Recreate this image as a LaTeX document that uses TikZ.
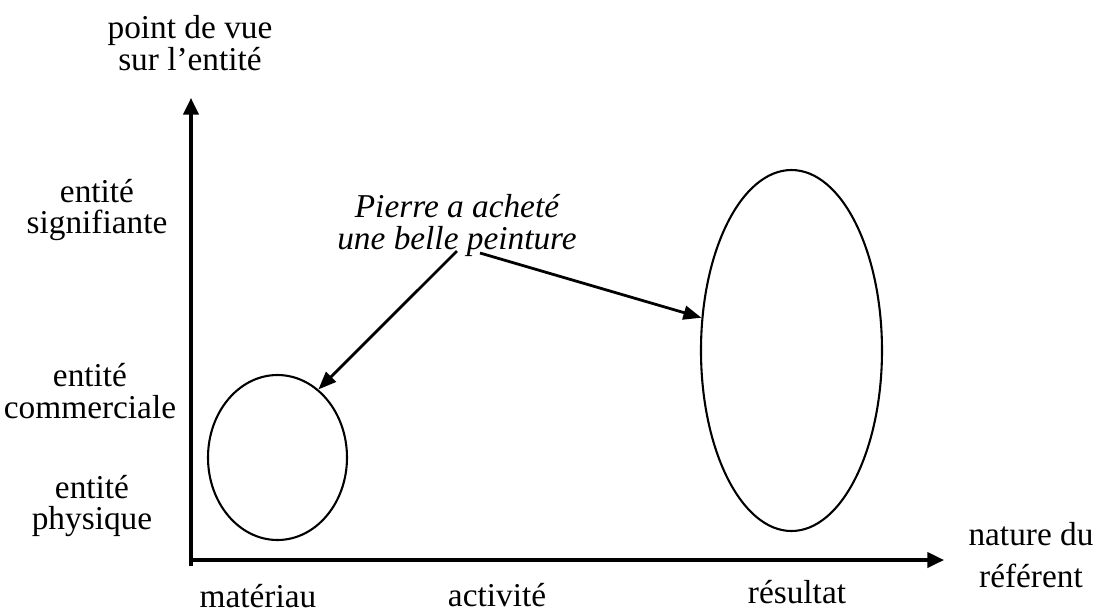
\documentclass[tikz,border=0pt]{standalone}
\usepackage{fontspec}
\setmainfont{Liberation Serif}
\usetikzlibrary{positioning, arrows.meta, shapes.geometric}
\newcommand{\pu}{0.36pt}

\begin{document}
\begin{tikzpicture}[
  x=0.36pt, y=-0.36pt,
  axe/.style={-{Triangle[length=6pt, width=5.5pt]}, line width=1.1pt},
  fleche/.style={-{Triangle[length=6.5pt, width=5pt]}, line width=1pt},
  zone/.style={ellipse, draw, line width=0.75pt, inner sep=0pt},
  lbl/.style={align=center, inner sep=0pt,
    font=\fontsize{12}{11.5}\selectfont}
]
\useasboundingbox (0,0) rectangle (1097,613);

%% axes: origin at (191,560) in px, y pointing down
\coordinate (orig) at (191,566);
\coordinate (ytip) at (191,98);
\coordinate (xstart) at (189,560);
\coordinate (xtip) at (944,560);
\draw[axe] (orig) -- (ytip);
\draw[axe] (xstart) -- (xtip);

%% ─── AXIS TITLES ────────────────────────────────────────────────
\node[lbl] (ytitle) at (190,43) {point de vue\\sur l’entité};
\node[lbl, font=\fontsize{12}{15}\selectfont] (xtitle) at (1031,555)
  {nature du\\référent};

%% ─── Y LEVELS ───────────────────────────────────────────────────
\node[lbl] (signif) at (97,210) {entité\\signifiante};
\node[lbl] (commer) at (90,391) {entité\\commerciale};
\node[lbl] (phys) at (92,506) {entité\\physique};

%% ─── X LEVELS ───────────────────────────────────────────────────
\node[lbl] (mat) at (258,596) {matériau};
\node[lbl] (act) at (497,595) {activité};
\node[lbl] (res) at (797,592) {résultat};

%% ─── ZONES ──────────────────────────────────────────────────────
\node[zone, minimum width=139*\pu, minimum height=165*\pu]
  (zmat) at (277.5,457.5) {};
\node[zone, minimum width=181*\pu, minimum height=361*\pu]
  (zres) at (791.5,350.5) {};

%% ─── EXAMPLE SENTENCE ───────────────────────────────────────────
\node[lbl, font=\fontsize{12}{11.5}\selectfont\itshape] (phrase) at (457,225)
  {Pierre a acheté\\une belle peinture};
\coordinate (dep1) at (457,251);
\coordinate (dep2) at (480,253);

\draw[fleche] (dep1) -- (zmat.59);
\draw[fleche] (dep2) -- (zres.160);

\end{tikzpicture}
\end{document}
